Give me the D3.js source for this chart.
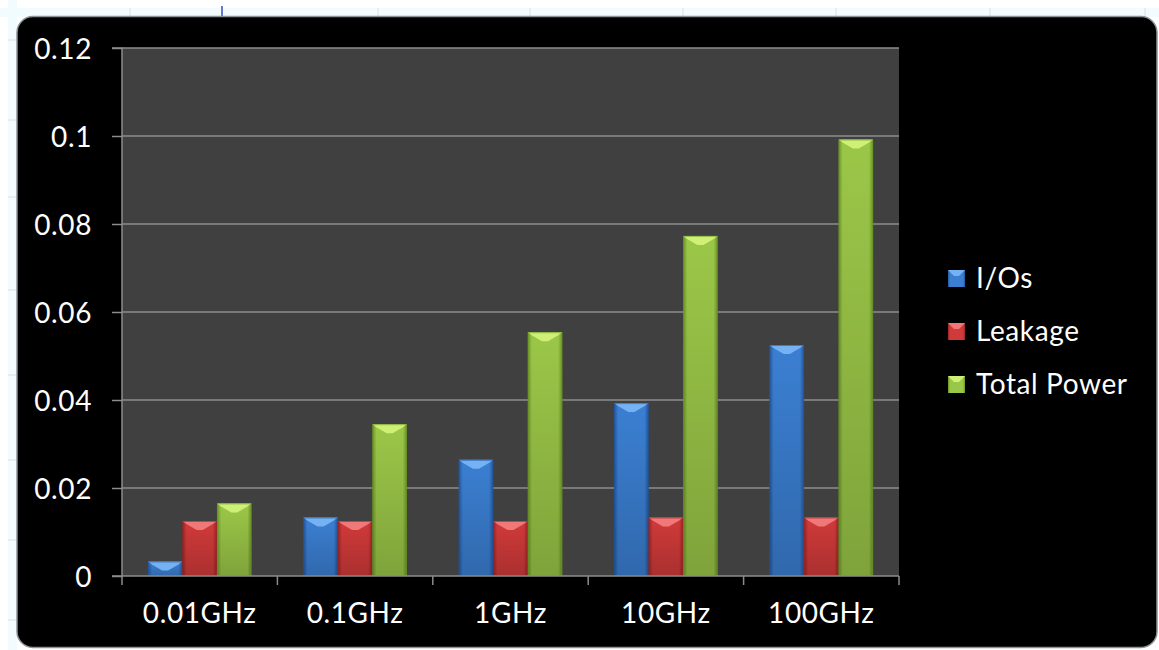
<!DOCTYPE html>
<html>
<head>
<meta charset="utf-8">
<script src="https://cdn.jsdelivr.net/npm/d3@7"></script>
<style>
  html, body { margin: 0; padding: 0; background: #ffffff; }
  svg { display: block; }
  text { font-family: Lato, "Open Sans", sans-serif; letter-spacing: 0.6px; }
</style>
</head>
<body>
<svg id="chart" width="1159" height="650"></svg>
<script>
// Power per clock rate, three series
const categories = ["0.01GHz", "0.1GHz", "1GHz", "10GHz", "100GHz"];
const seriesNames = ["I/Os", "Leakage", "Total Power"];
const ios = [0.0033, 0.0133, 0.0264, 0.0393, 0.0525];
const leakage = [0.0125, 0.0125, 0.0125, 0.0133, 0.0133];
const totalPower = [0.0165, 0.0345, 0.0554, 0.0773, 0.0992];
const yTicks = [0, 0.02, 0.04, 0.06, 0.08, 0.1, 0.12];
const yTickLabels = ["0", "0.02", "0.04", "0.06", "0.08", "0.1", "0.12"];

const seriesValues = [ios, leakage, totalPower];
const palette = [
  { base: "#3b7fd2", dark: "#23579e", light: "#7cb8f6" },
  { base: "#d03a3a", dark: "#9c2424", light: "#f48080" },
  { base: "#9bc748", dark: "#6a9426", light: "#d4f47a" }
];

const svg = d3.select("#chart");
const W = 1159, H = 650;
const FONT = 28;

// sheet remnants around the chart object
svg.append("rect").attr("x", 0).attr("y", 0).attr("width", W).attr("height", H).attr("fill", "#ffffff");
svg.append("rect").attr("x", 0).attr("y", 8).attr("width", W).attr("height", 9).attr("fill", "#f2fbfd");
svg.append("rect").attr("x", 8).attr("y", 0).attr("width", 9).attr("height", H).attr("fill", "#f2fbfd");
[130, 378, 530, 683, 836, 990, 1145].forEach(x =>
  svg.append("line").attr("x1", x).attr("x2", x).attr("y1", 8).attr("y2", 17)
    .attr("stroke", "#d8e0e4").attr("stroke-width", 1));
[40, 120, 197, 290, 375, 460, 540, 620].forEach(y =>
  svg.append("line").attr("x1", 8).attr("x2", 17).attr("y1", y).attr("y2", y)
    .attr("stroke", "#d8e0e4").attr("stroke-width", 1));
svg.append("line").attr("x1", 222).attr("x2", 222).attr("y1", 6).attr("y2", 17)
  .attr("stroke", "#3050c0").attr("stroke-width", 1.5);

// chart container
svg.append("rect")
  .attr("x", 17).attr("y", 16.5).attr("width", 1140).attr("height", 631)
  .attr("rx", 16).attr("ry", 16)
  .attr("fill", "#000000").attr("stroke", "#8a9496").attr("stroke-width", 1.5);

const plot = { left: 122, right: 899, top: 48, bottom: 576 };

const x0 = d3.scaleBand().domain(categories).range([plot.left, plot.right]).paddingInner(0).paddingOuter(0);
const x1 = d3.scaleBand().domain(seriesNames).range([0, x0.bandwidth()]).paddingInner(0).paddingOuter(0.75);
const y = d3.scaleLinear().domain([0, 0.12]).range([plot.bottom, plot.top]);

const defs = svg.append("defs");
palette.forEach((p, i) => {
  const g = defs.append("linearGradient").attr("id", "bar" + i)
    .attr("x1", "0%").attr("x2", "100%").attr("y1", "0%").attr("y2", "0%");
  g.append("stop").attr("offset", "0%").attr("stop-color", p.dark);
  g.append("stop").attr("offset", "12%").attr("stop-color", p.base);
  g.append("stop").attr("offset", "50%").attr("stop-color", p.base);
  g.append("stop").attr("offset", "88%").attr("stop-color", p.base);
  g.append("stop").attr("offset", "100%").attr("stop-color", p.dark);
  const v = defs.append("linearGradient").attr("id", "shade" + i)
    .attr("x1", "0%").attr("x2", "0%").attr("y1", "0%").attr("y2", "100%");
  v.append("stop").attr("offset", "0%").attr("stop-color", "#000").attr("stop-opacity", 0);
  v.append("stop").attr("offset", "100%").attr("stop-color", "#000").attr("stop-opacity", 0.18);
});

// plot background
svg.append("rect")
  .attr("x", plot.left).attr("y", plot.top)
  .attr("width", plot.right - plot.left).attr("height", plot.bottom - plot.top)
  .attr("fill", "#404040");

// gridlines
svg.append("g").selectAll("line").data(yTicks.filter(t => t > 0)).join("line")
  .attr("x1", plot.left).attr("x2", plot.right)
  .attr("y1", d => y(d)).attr("y2", d => y(d))
  .attr("stroke", "#8c8c8c").attr("stroke-width", 1.5);

// bars
const groups = svg.append("g").selectAll("g").data(categories).join("g")
  .attr("transform", d => `translate(${x0(d)},0)`);

groups.each(function(cat, ci) {
  const g = d3.select(this);
  seriesNames.forEach((s, si) => {
    const v = seriesValues[si][ci];
    const bx = x1(s), bw = x1.bandwidth();
    const by = y(v), bh = y(0) - y(v);
    const p = palette[si];
    g.append("rect").attr("x", bx).attr("y", by).attr("width", bw).attr("height", bh)
      .attr("fill", `url(#bar${si})`);
    g.append("rect").attr("x", bx).attr("y", by).attr("width", bw).attr("height", bh)
      .attr("fill", `url(#shade${si})`);
    // top bevel
    const bev = Math.min(9, bh);
    g.append("path")
      .attr("d", `M${bx},${by} L${bx + bw},${by} L${bx + bw - 4},${by + Math.min(3, bev)} L${bx + bw / 2 + 3},${by + bev} L${bx + bw / 2 - 3},${by + bev} L${bx + 4},${by + Math.min(3, bev)} Z`)
      .attr("fill", p.light).attr("opacity", 0.9);
    g.append("rect").attr("x", bx + 0.5).attr("y", by + 0.5).attr("width", bw - 1).attr("height", bh - 1)
      .attr("fill", "none").attr("stroke", p.dark).attr("stroke-opacity", 0.6).attr("stroke-width", 1);
  });
});

// y axis
const yAxis = d3.axisLeft(y).tickValues(yTicks).tickSize(10).tickPadding(20)
  .tickFormat((d, i) => yTickLabels[i]);
const gy = svg.append("g").attr("transform", `translate(${plot.left},0)`).call(yAxis);
gy.select(".domain").attr("stroke", "#8c8c8c").attr("stroke-width", 1.5).attr("d", `M-10,${plot.top}H0V${plot.bottom}`);
gy.selectAll(".tick line").attr("stroke", "#8c8c8c").attr("stroke-width", 1.5);
gy.selectAll(".tick text").attr("fill", "#ffffff").attr("font-size", FONT)
  .attr("text-anchor", "end").attr("dy", "0.36em");

// x axis
const gx = svg.append("g").attr("transform", `translate(0,${plot.bottom})`);
gx.append("line").attr("x1", plot.left - 10).attr("x2", plot.right).attr("y1", 0).attr("y2", 0)
  .attr("stroke", "#8c8c8c").attr("stroke-width", 1.5);
const bounds = categories.map(c => x0(c)).concat([plot.right]);
gx.selectAll("line.tk").data(bounds).join("line").attr("class", "tk")
  .attr("x1", d => d).attr("x2", d => d).attr("y1", 0).attr("y2", 9)
  .attr("stroke", "#8c8c8c").attr("stroke-width", 1.5);
gx.selectAll("text").data(categories).join("text")
  .attr("x", d => x0(d) + x0.bandwidth() / 2).attr("y", 47)
  .attr("text-anchor", "middle").attr("fill", "#ffffff").attr("font-size", FONT)
  .text(d => d);

// legend
const legend = svg.append("g").attr("transform", "translate(948,278)");
seriesNames.forEach((s, i) => {
  const row = legend.append("g").attr("transform", `translate(0,${i * 53})`);
  const p = palette[i];
  row.append("rect").attr("x", 0).attr("y", -8).attr("width", 17).attr("height", 17)
    .attr("fill", `url(#bar${i})`);
  row.append("path").attr("d", "M0,-8 L17,-8 L11,-2 L6,-2 Z").attr("fill", p.light).attr("opacity", 0.9);
  row.append("text").attr("x", 28).attr("y", 0).attr("dy", "0.36em")
    .attr("fill", "#ffffff").attr("font-size", FONT).text(s);
});
</script>
</body>
</html>
